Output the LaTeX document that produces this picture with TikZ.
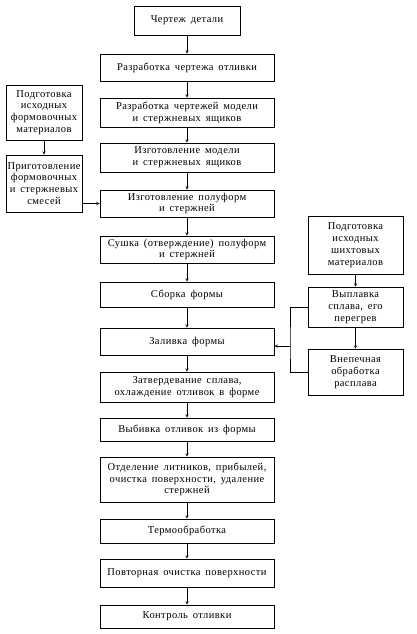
\documentclass[tikz,border=0pt]{standalone}
\usepackage{fontspec}
\setmainfont{Liberation Serif}[LetterSpace=4, WordSpace=1.6]

\begin{document}
\begin{tikzpicture}[x=1pt, y=-1pt, >=stealth, line width=0.5pt,
  every stage/.style={draw, line width=0.8pt, align=center, inner sep=1pt,
    font=\fontsize{10.5}{11.8}\selectfont},
  main/.style={minimum width=174pt},
  stage 1/.style={minimum width=106pt},
  side/.style={minimum width=76pt},
  charge/.style={minimum width=95pt}]
\useasboundingbox (0,0) rectangle (416,634);

% main column
\foreach \t/\y/\h [count=\i] in {
  {Чертеж детали}/20.5/29,
  {Разработка чертежа отливки}/67.5/27,
  {Разработка чертежей модели\\и стержневых ящиков}/112.5/29,
  {Изготовление модели\\и стержневых ящиков}/157.5/29,
  {Изготовление полуформ\\и стержней}/203.5/27,
  {Сушка (отверждение) полуформ\\и стержней}/249.5/27,
  {Сборка формы}/294.5/25,
  {Заливка формы}/341.5/27,
  {Затвердевание сплава,\\охлаждение отливок в форме}/387/30,
  {Выбивка отливок из формы}/429.5/23,
  {Отделение литников, прибылей,\\очистка поверхности, удаление\\стержней}/479.5/45,
  {Термообработка}/531/24,
  {Повторная очистка поверхности}/573/28,
  {Контроль отливки}/616.5/23}
  \node [every stage/.try, main, stage \i/.try, minimum height=\h pt] (stage-\i) at (187,\y) {\t};

% moulding materials
\foreach \t/\y/\h [count=\i] in {
  {Подготовка\\исходных\\формовочных\\материалов}/112.5/55,
  {Приготовление\\формовочных\\и стержневых\\смесей}/183.5/57}
  \node [every stage/.try, side, minimum height=\h pt] (mould-\i) at (44,\y) {\t};

% charge materials
\foreach \t/\y/\h [count=\i] in {
  {Подготовка\\исходных\\шихтовых\\материалов}/245/58,
  {Выплавка\\сплава, его\\перегрев}/307/40,
  {Внепечная\\обработка\\расплава}/372/46}
  \node [every stage/.try, charge, minimum height=\h pt] (charge-\i) at (355.5,\y) {\t};

% edges along the main column
\foreach \i [count=\j from 2] in {1,...,13}
  \draw [->] (stage-\i) -- (stage-\j);

\draw [->] (mould-1) -- (mould-2);
\draw [->] (mould-2.east |- stage-5) -- (stage-5);

\foreach \i [count=\j from 2] in {1, 2}
  \draw [->] (charge-\i) -- (charge-\j);

% melt goes to pouring
\coordinate (tap) at (290,346);
\draw (charge-2.west) -| (tap) |- (charge-3.west);
\draw [->] (tap) -- (tap -| stage-8.east);
\end{tikzpicture}
\end{document}
